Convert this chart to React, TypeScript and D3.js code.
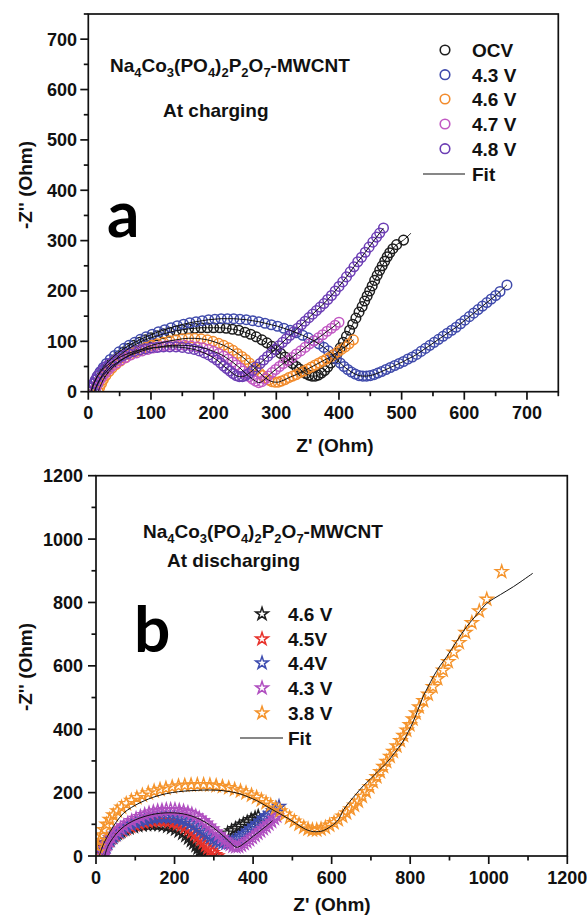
import React from "react";
import * as d3 from "d3";

// ---------- Panel a data (Z', -Z'') ----------
const ocvA: [number, number][] = [[10,0],[12,8],[15,16],[18,24],[22,32],[26,40],[31,48],[37,56],[43,64],[50,72],[57,79],[65,86],[73,92],[82,98],[91,103],[100,107],[110,111],[120,115],[130,118],[140,121],[150,123],[160,125],[170,126],[180,127],[190,127],[200,127],[210,127],[220,126],[230,124],[240,122],[250,118],[259,114],[268,109],[277,103],[285,97],[293,90],[300,83],[307,76],[314,69],[320,62],[326,56],[332,50],[337,45],[342,40],[347,36],[352,33],[357,31],[362,31],[367,33],[372,37],[377,42],[382,49],[387,57],[392,66],[397,76],[402,87],[407,98],[412,110],[417,122],[422,134],[427,146],[432,158],[437,169],[441,180],[445,190],[449,200],[453,210],[457,221],[461,231],[465,241],[469,250],[473,259],[477,268],[481,276],[486,284],[492,292],[503,301]];
const v43A: [number, number][] = [[5,0],[7,8],[9,16],[12,24],[15,32],[19,40],[24,48],[29,56],[35,64],[42,72],[49,79],[57,86],[65,92],[74,98],[83,104],[92,109],[102,114],[112,119],[122,123],[132,127],[142,131],[152,134],[162,137],[172,139],[182,141],[192,143],[202,144],[212,145],[222,145],[232,145],[242,144],[252,143],[262,141],[272,139],[282,136],[292,133],[302,130],[312,126],[322,122],[332,117],[342,112],[351,107],[360,101],[368,95],[376,88],[383,81],[390,73],[396,65],[402,57],[408,50],[414,44],[420,39],[426,35],[432,32],[438,31],[444,31],[450,32],[456,34],[462,37],[468,40],[475,44],[482,48],[489,52],[496,56],[503,60],[510,65],[517,69],[524,74],[531,80],[538,86],[545,92],[552,98],[559,104],[566,110],[573,116],[580,122],[587,128],[594,135],[601,142],[608,149],[615,156],[622,163],[629,170],[636,177],[643,184],[650,191],[657,199],[668,212]];
const v46A: [number, number][] = [[16,0],[18,8],[21,16],[24,24],[28,32],[33,40],[38,47],[44,54],[51,61],[58,67],[66,73],[74,78],[83,83],[92,88],[101,92],[110,95],[120,98],[130,101],[140,103],[150,105],[160,106],[170,106],[180,105],[190,103],[199,100],[208,96],[216,92],[224,87],[231,82],[238,76],[245,70],[251,64],[257,57],[263,50],[268,44],[273,38],[278,32],[283,27],[288,23],[293,20],[298,19],[303,19],[308,21],[314,24],[320,28],[326,31],[332,34],[338,38],[344,41],[350,45],[356,49],[362,53],[368,57],[374,61],[380,65],[386,69],[392,74],[398,79],[404,84],[410,89],[416,95],[423,103]];
const v47A: [number, number][] = [[10,0],[12,8],[15,16],[18,23],[22,30],[27,37],[32,44],[38,51],[45,57],[52,63],[60,68],[68,73],[77,77],[86,81],[95,84],[104,87],[114,89],[124,91],[134,92],[144,92],[154,92],[164,91],[174,89],[183,87],[192,84],[200,80],[208,76],[216,71],[223,65],[230,59],[236,53],[242,47],[247,41],[252,35],[257,30],[262,25],[267,21],[272,18],[277,20],[282,25],[287,31],[293,38],[299,44],[305,50],[311,56],[318,62],[325,68],[332,75],[339,81],[346,88],[353,95],[360,101],[367,107],[374,113],[381,120],[388,126],[394,132],[400,138]];
const v48A: [number, number][] = [[4,0],[6,8],[8,16],[11,23],[14,30],[18,37],[23,44],[28,50],[34,56],[41,62],[48,67],[56,72],[64,76],[73,80],[82,83],[91,85],[100,87],[110,88],[120,89],[130,89],[140,89],[150,88],[160,86],[169,84],[177,81],[185,77],[192,73],[199,68],[205,63],[211,57],[216,51],[221,46],[226,41],[231,36],[236,32],[241,30],[246,30],[251,32],[256,36],[262,42],[268,49],[274,56],[280,63],[286,70],[292,77],[298,84],[304,91],[310,98],[316,105],[322,112],[328,119],[334,126],[340,133],[346,140],[352,147],[358,154],[364,161],[370,168],[376,175],[382,183],[388,191],[394,200],[400,209],[406,218],[412,228],[418,238],[424,248],[430,258],[436,267],[442,277],[448,287],[454,297],[460,307],[465,315],[471,325]];
const ocvFitTail: [number, number][] = [[515,315]];

const seriesA = [
  { name: "OCV", color: "#1e1e1e", data: ocvA },
  { name: "4.3 V", color: "#3f4aab", data: v43A },
  { name: "4.6 V", color: "#f28b2c", data: v46A },
  { name: "4.7 V", color: "#c158c3", data: v47A },
  { name: "4.8 V", color: "#6c3eb4", data: v48A },
];
const fitsA: [number, number][][] = [ocvA.concat(ocvFitTail), v43A, v46A, v47A, v48A];

// ---------- Panel b data ----------
const v46B: [number, number][] = [[10,0],[12,10],[15,20],[19,30],[24,40],[30,49],[37,57],[45,65],[54,72],[63,78],[73,84],[84,89],[95,93],[106,96],[117,98],[128,99],[139,100],[150,100],[161,99],[172,97],[183,94],[193,90],[203,85],[212,79],[221,72],[229,65],[236,57],[243,49],[249,41],[255,33],[260,25],[265,17],[270,10],[275,4],[280,0],[286,0],[292,0],[335,72],[345,79],[355,86],[365,93],[375,100],[385,107],[395,114],[405,120],[413,125]];
const v45B: [number, number][] = [[14,0],[16,10],[19,20],[23,30],[28,40],[34,49],[41,58],[49,66],[58,74],[67,81],[77,87],[88,93],[99,98],[110,102],[121,106],[132,109],[143,111],[154,112],[165,112],[176,111],[187,109],[198,106],[208,102],[218,97],[227,91],[236,84],[244,76],[252,68],[259,60],[266,51],[273,42],[279,33],[285,25],[291,17],[297,10],[303,4],[309,0]];
const v44B: [number, number][] = [[16,0],[18,10],[21,20],[25,30],[30,40],[36,50],[43,59],[51,68],[60,76],[69,84],[79,91],[90,98],[101,104],[112,109],[123,113],[134,117],[145,120],[156,122],[167,123],[178,123],[189,122],[200,120],[211,117],[221,113],[231,108],[241,102],[250,95],[259,88],[267,81],[275,73],[283,66],[291,59],[299,53],[307,48],[315,44],[323,41],[331,40],[339,41],[347,45],[355,50],[363,56],[371,63],[379,70],[387,78],[395,86],[403,94],[411,102],[419,110],[427,118],[435,126],[443,134],[451,142],[459,149],[466,156]];
const v43B: [number, number][] = [[18,0],[20,12],[23,24],[27,36],[32,47],[38,58],[45,68],[53,78],[62,87],[71,95],[81,103],[91,111],[102,118],[113,124],[124,130],[135,135],[146,139],[157,142],[168,144],[179,146],[190,146],[201,146],[212,144],[223,141],[234,137],[244,132],[254,126],[263,119],[272,111],[280,103],[288,94],[296,85],[304,76],[312,67],[320,58],[328,50],[335,42],[342,36],[349,31],[356,29],[363,30],[370,34],[377,39],[384,45],[391,51],[398,58],[405,65],[412,72],[419,79],[426,86],[433,93],[440,101],[447,109],[454,118],[460,126]];
const v38B: [number, number][] = [[3,12],[5,30],[9,48],[14,66],[20,83],[27,100],[35,115],[44,129],[54,142],[65,154],[77,165],[90,175],[104,184],[118,192],[133,199],[148,205],[163,210],[178,214],[194,218],[210,221],[226,223],[242,224],[258,225],[274,225],[290,224],[306,222],[322,219],[338,215],[353,210],[368,205],[382,199],[396,192],[409,185],[421,177],[433,168],[445,160],[457,151],[469,142],[481,132],[493,121],[505,110],[517,100],[529,91],[540,85],[551,82],[562,82],[573,85],[584,90],[595,97],[606,105],[617,114],[628,125],[638,136],[648,148],[658,160],[668,173],[678,188],[688,203],[697,218],[706,234],[715,250],[724,266],[732,282],[740,298],[749,314],[757,330],[766,347],[775,364],[783,380],[791,397],[799,414],[807,432],[815,451],[823,470],[834,490],[846,510],[858,534],[870,559],[884,586],[897,613],[911,643],[925,673],[941,705],[957,736],[976,773],[995,810],[1033,897]];
const fit38B: [number, number][] = [[8,0],[20,40],[36,77],[52,108],[70,135],[90,153],[112,168],[134,180],[155,189],[180,197],[210,203],[239,206],[270,208],[300,208],[324,206],[346,202],[367,196],[388,186],[409,175],[430,160],[451,145],[470,132],[490,118],[510,102],[528,88],[540,81],[553,77],[566,77],[579,80],[596,92],[613,108],[622,125],[630,145],[645,170],[664,198],[681,222],[698,242],[718,267],[740,294],[760,325],[782,362],[795,392],[808,425],[820,462],[833,503],[846,535],[859,566],[876,600],[893,629],[918,677],[944,724],[970,762],[995,797],[1030,825],[1063,850],[1112,892]];
const fit43B: [number, number][] = [[22,0],[30,30],[42,55],[56,76],[72,94],[90,108],[110,119],[130,127],[152,133],[176,136],[200,136],[222,133],[244,126],[264,116],[282,104],[298,90],[312,76],[326,61],[338,47],[348,35],[356,28],[364,29],[374,37],[386,48],[400,62],[414,75],[428,89],[440,101],[450,112]];

const seriesB = [
  { name: "4.6 V", color: "#1e1e1e", data: v46B },
  { name: "4.5V", color: "#e8322b", data: v45B },
  { name: "4.4V", color: "#3e4db0", data: v44B },
  { name: "4.3 V", color: "#b04fc0", data: v43B },
  { name: "3.8 V", color: "#f5942c", data: v38B },
];
const fitsB: [number, number][][] = [fit43B, fit38B];

const ticksA = [0, 100, 200, 300, 400, 500, 600, 700];
const minorA = [50, 150, 250, 350, 450, 550, 650, 750];
const ticksB = [0, 200, 400, 600, 800, 1000, 1200];
const minorB = [100, 300, 500, 700, 900, 1100];

const formula: [string, boolean][] = [["Na", false], ["4", true], ["Co", false], ["3", true], ["(PO", false], ["4", true], [")", false], ["2", true], ["P", false], ["2", true], ["O", false], ["7", true], ["-MWCNT", false]];

const FONT = "'Liberation Sans', Arial, sans-serif";

function Formula({ x, y }: { x: number; y: number }) {
  let prevSub = false;
  return (
    <text x={x} y={y} fontFamily={FONT} fontWeight="bold" fontSize={19} fill="#111">
      {formula.map(([t, sub], i) => {
        let dy = 0;
        if (sub && !prevSub) dy = 5;
        if (!sub && prevSub) dy = -5;
        prevSub = sub;
        return (
          <tspan key={i} dy={dy} fontSize={sub ? 13 : 19}>
            {t}
          </tspan>
        );
      })}
    </text>
  );
}

type PanelProps = {
  x0: number; x1: number; y0: number; y1: number;
  xMax: number; yMax: number;
  ticks: number[]; minor: number[];
  yLabelRight: number;
};

function Axes({ p, sx, sy }: { p: PanelProps; sx: d3.ScaleLinear<number, number>; sy: d3.ScaleLinear<number, number> }) {
  const lw = 1.7;
  return (
    <g>
      <rect x={p.x0} y={p.y1} width={p.x1 - p.x0} height={p.y0 - p.y1} fill="none" stroke="#111" strokeWidth={lw} />
      {p.ticks.map((t) => (
        <g key={"x" + t}>
          <line x1={sx(t)} x2={sx(t)} y1={p.y0} y2={p.y0 + 8} stroke="#111" strokeWidth={lw} />
          <text x={sx(t)} y={p.y0 + 27.5} textAnchor="middle" fontFamily={FONT} fontWeight="bold" fontSize={18} fill="#111">{t}</text>
        </g>
      ))}
      {p.minor.map((t) => (
        <line key={"xm" + t} x1={sx(t)} x2={sx(t)} y1={p.y0} y2={p.y0 + 4.5} stroke="#111" strokeWidth={lw} />
      ))}
      {p.ticks.map((t) => (
        <g key={"y" + t}>
          <line x1={p.x0 - 8} x2={p.x0} y1={sy(t)} y2={sy(t)} stroke="#111" strokeWidth={lw} />
          <text x={p.yLabelRight} y={sy(t) + 6.5} textAnchor="end" fontFamily={FONT} fontWeight="bold" fontSize={18} fill="#111">{t}</text>
        </g>
      ))}
      {p.minor.map((t) => (
        <line key={"ym" + t} x1={p.x0 - 4.5} x2={p.x0} y1={sy(t)} y2={sy(t)} stroke="#111" strokeWidth={lw} />
      ))}
    </g>
  );
}

export default function App() {
  const pa: PanelProps = { x0: 88.3, x1: 558.3, y0: 391.7, y1: 14, xMax: 750, yMax: 750, ticks: ticksA, minor: minorA, yLabelRight: 77 };
  const pb: PanelProps = { x0: 96, x1: 567.3, y0: 856, y1: 475.7, xMax: 1200, yMax: 1200, ticks: ticksB, minor: minorB, yLabelRight: 83 };

  const sxA = d3.scaleLinear().domain([0, pa.xMax]).range([pa.x0, pa.x1]);
  const syA = d3.scaleLinear().domain([0, pa.yMax]).range([pa.y0, pa.y1]);
  const sxB = d3.scaleLinear().domain([0, pb.xMax]).range([pb.x0, pb.x1]);
  const syB = d3.scaleLinear().domain([0, pb.yMax]).range([pb.y0, pb.y1]);

  const lineA = d3.line<[number, number]>().x((d) => sxA(d[0])).y((d) => syA(d[1])).curve(d3.curveCatmullRom);
  const lineB = d3.line<[number, number]>().x((d) => sxB(d[0])).y((d) => syB(d[1])).curve(d3.curveCatmullRom);
  const star = d3.symbol().type(d3.symbolStar).size(50)() as string;

  const legA_y = [50, 74.7, 99, 124, 148.7];
  const legB_y = [614, 639, 663, 688, 713];

  return (
    <svg width={587} height={918} style={{ position: "absolute", left: 0, top: 0, background: "#fff" }} xmlns="http://www.w3.org/2000/svg">
      <defs>
        <clipPath id="clipA"><rect x={pa.x0} y={pa.y1} width={pa.x1 - pa.x0} height={pa.y0 - pa.y1} /></clipPath>
        <clipPath id="clipB"><rect x={pb.x0} y={pb.y1} width={pb.x1 - pb.x0} height={pb.y0 - pb.y1} /></clipPath>
      </defs>
      <rect width={587} height={918} fill="#fff" />

      {/* Panel a */}
      <g clipPath="url(#clipA)">
        {seriesA.map((s) => (
          <g key={s.name}>
            {s.data.map((d, i) => (
              <circle key={i} cx={sxA(d[0])} cy={syA(d[1])} r={4.8} fill="none" stroke={s.color} strokeWidth={1.5} />
            ))}
          </g>
        ))}
        {fitsA.map((f, i) => (
          <path key={i} d={lineA(f) as string} fill="none" stroke="#111" strokeWidth={1} />
        ))}
      </g>
      <Axes p={pa} sx={sxA} sy={syA} />
      <Formula x={110} y={72} />
      <text x={163} y={117} fontFamily={FONT} fontWeight="bold" fontSize={19} fill="#111">At charging</text>
      <text x={107} y={237} fontFamily="Lato, sans-serif" fontWeight="bold" fontSize={64} fill="#000">a</text>
      {seriesA.map((s, i) => (
        <g key={s.name}>
          <circle cx={445} cy={legA_y[i]} r={4.8} fill="none" stroke={s.color} strokeWidth={1.6} />
          <text x={472} y={legA_y[i] + 7} fontFamily={FONT} fontWeight="bold" fontSize={19} fill="#111">{s.name}</text>
        </g>
      ))}
      <line x1={423} x2={465} y1={174} y2={174} stroke="#111" strokeWidth={1.2} />
      <text x={472} y={181} fontFamily={FONT} fontWeight="bold" fontSize={19} fill="#111">Fit</text>
      <text x={335} y={452} textAnchor="middle" fontFamily={FONT} fontWeight="bold" fontSize={19} fill="#111">Z' (Ohm)</text>
      <text transform="translate(32,185) rotate(-90)" textAnchor="middle" fontFamily={FONT} fontWeight="bold" fontSize={19} fill="#111">-Z'' (Ohm)</text>

      {/* Panel b */}
      <g clipPath="url(#clipB)">
        {seriesB.map((s) => (
          <g key={s.name}>
            {s.data.map((d, i) => (
              <path key={i} d={star} transform={`translate(${sxB(d[0])},${syB(d[1])})`} fill="none" stroke={s.color} strokeWidth={1.4} />
            ))}
          </g>
        ))}
        {fitsB.map((f, i) => (
          <path key={i} d={lineB(f) as string} fill="none" stroke="#111" strokeWidth={1} />
        ))}
      </g>
      <Axes p={pb} sx={sxB} sy={syB} />
      <Formula x={143} y={538} />
      <text x={167} y={567} fontFamily={FONT} fontWeight="bold" fontSize={19} fill="#111">At discharging</text>
      <text x={134} y={652} fontFamily="Lato, sans-serif" fontWeight="bold" fontSize={64} fill="#000">b</text>
      {seriesB.map((s, i) => (
        <g key={s.name}>
          <path d={star} transform={`translate(262,${legB_y[i]})`} fill="none" stroke={s.color} strokeWidth={1.5} />
          <text x={288} y={legB_y[i] + 7} fontFamily={FONT} fontWeight="bold" fontSize={19} fill="#111">{s.name}</text>
        </g>
      ))}
      <line x1={240} x2={283} y1={738} y2={738} stroke="#111" strokeWidth={1.2} />
      <text x={288} y={745} fontFamily={FONT} fontWeight="bold" fontSize={19} fill="#111">Fit</text>
      <text x={332} y={911} textAnchor="middle" fontFamily={FONT} fontWeight="bold" fontSize={19} fill="#111">Z' (Ohm)</text>
      <text transform="translate(32,667) rotate(-90)" textAnchor="middle" fontFamily={FONT} fontWeight="bold" fontSize={19} fill="#111">-Z'' (Ohm)</text>
    </svg>
  );
}
